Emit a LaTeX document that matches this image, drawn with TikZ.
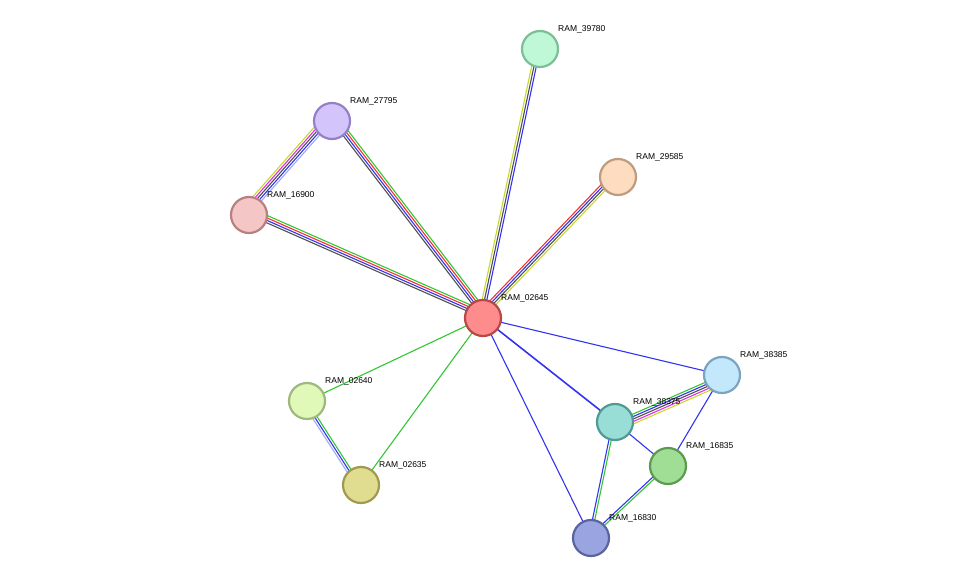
\documentclass[tikz,border=0pt]{standalone}
\usetikzlibrary{calc}
\usepackage{fontspec}
\setmainfont{Liberation Sans}
\definecolor{eg}{HTML}{33C633}
\definecolor{eb}{HTML}{3333F0}
\definecolor{er}{HTML}{F03333}
\definecolor{ek}{HTML}{505050}
\definecolor{ey}{HTML}{C8D830}
\definecolor{em}{HTML}{E030E0}
\definecolor{el}{HTML}{A0A8F8}
\newcommand{\mledge}[3]{%
  \foreach \c [count=\i] in {#3} {%
    \pgfmathsetmacro{\off}{(\i-1)*2.3}%
    \draw[\c, line width=1.1pt] ($(#1)!\off pt!90:(#2)$) -- ($(#2)!\off pt!-90:(#1)$);
  }}
\begin{document}
\begin{tikzpicture}[x=1pt,y=-1pt,
  prot/.style={circle, minimum size=36pt, inner sep=0pt, line width=2.2pt},
  lab/.style={anchor=south west, font=\fontsize{8.5}{10}\selectfont, inner sep=1pt}]
\useasboundingbox (0,0) rectangle (975,583);
\coordinate (c0) at (483,318);
\coordinate (c1) at (540,49);
\coordinate (c2) at (618,177);
\coordinate (c3) at (332,121);
\coordinate (c4) at (249,215);
\coordinate (c5) at (722,375);
\coordinate (c6) at (615,422);
\coordinate (c7) at (668,466);
\coordinate (c8) at (591,538);
\coordinate (c9) at (307,401);
\coordinate (c10) at (361,485);
\mledge{c0}{c1}{eb,ek,ey}
\mledge{c0}{c2}{ey,ek,eb,er}
\mledge{c3}{c0}{ek,eb,er,eg}
\mledge{c4}{c0}{ek,eb,er,eg}
\mledge{c4}{c3}{el,eb,ek,em,ey}
\mledge{c0}{c9}{eg}
\mledge{c0}{c10}{eg}
\mledge{c0}{c5}{eb}
\draw[eb,line width=1.6pt] (c0) -- (c6);
\mledge{c0}{c8}{eb}
\mledge{c10}{c9}{eg,eb,el}
\mledge{c5}{c6}{eg,eb,ek,em,ey}
\mledge{c6}{c7}{eb}
\mledge{c5}{c7}{eb}
\mledge{c8}{c6}{eg,eb}
\mledge{c8}{c7}{eg,eb}
\node[prot, fill={rgb,255:red,255;green,140;blue,140}, draw={rgb,255:red,184;green,72;blue,72}] (n0) at (c0) {};
\node[prot, fill={rgb,255:red,190;green,248;blue,214}, draw={rgb,255:red,124;green,191;blue,150}] (n1) at (c1) {};
\node[prot, fill={rgb,255:red,253;green,220;blue,192}, draw={rgb,255:red,189;green,156;blue,128}] (n2) at (c2) {};
\node[prot, fill={rgb,255:red,211;green,196;blue,251}, draw={rgb,255:red,149;green,128;blue,200}] (n3) at (c3) {};
\node[prot, fill={rgb,255:red,245;green,198;blue,198}, draw={rgb,255:red,184;green,128;blue,128}] (n4) at (c4) {};
\node[prot, fill={rgb,255:red,196;green,232;blue,251}, draw={rgb,255:red,124;green,164;blue,192}] (n5) at (c5) {};
\node[prot, fill={rgb,255:red,152;green,222;blue,214}, draw={rgb,255:red,79;green,154;blue,146}] (n6) at (c6) {};
\node[prot, fill={rgb,255:red,161;green,222;blue,149}, draw={rgb,255:red,92;green,154;blue,82}] (n7) at (c7) {};
\node[prot, fill={rgb,255:red,154;green,164;blue,224}, draw={rgb,255:red,90;green,100;blue,160}] (n8) at (c8) {};
\node[prot, fill={rgb,255:red,224;green,248;blue,184}, draw={rgb,255:red,160;green,184;blue,128}] (n9) at (c9) {};
\node[prot, fill={rgb,255:red,224;green,220;blue,144}, draw={rgb,255:red,160;green,154;blue,80}] (n10) at (c10) {};
\node[lab] (l0) at ($(c0)+(17,-15)$) {RAM\_02645};
\node[lab] (l1) at ($(c1)+(17,-15)$) {RAM\_39780};
\node[lab] (l2) at ($(c2)+(17,-15)$) {RAM\_29585};
\node[lab] (l3) at ($(c3)+(17,-15)$) {RAM\_27795};
\node[lab] (l4) at ($(c4)+(17,-15)$) {RAM\_16900};
\node[lab] (l5) at ($(c5)+(17,-15)$) {RAM\_38385};
\node[lab] (l6) at ($(c6)+(17,-15)$) {RAM\_38375};
\node[lab] (l7) at ($(c7)+(17,-15)$) {RAM\_16835};
\node[lab] (l8) at ($(c8)+(17,-15)$) {RAM\_16830};
\node[lab] (l9) at ($(c9)+(17,-15)$) {RAM\_02640};
\node[lab] (l10) at ($(c10)+(17,-15)$) {RAM\_02635};
\end{tikzpicture}
\end{document}
